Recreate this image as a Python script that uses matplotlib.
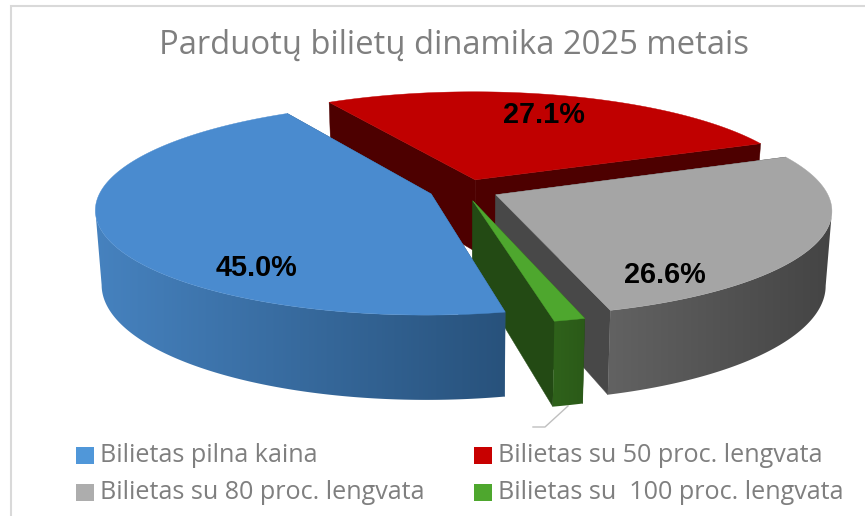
import numpy as np
import matplotlib
matplotlib.use("Agg")
import matplotlib.pyplot as plt
from matplotlib.patches import Polygon, Rectangle
from matplotlib.colors import to_rgb

title = "Parduotų bilietų dinamika 2025 metais"
categories = ["Bilietas pilna kaina", "Bilietas su 50 proc. lengvata",
              "Bilietas su 80 proc. lengvata", "Bilietas su  100 proc. lengvata"]
values = [45.0, 27.1, 26.6, 1.3]

# styling
top_cols = ["#4A8BCF", "#C00000", "#A5A5A5", "#4EA72E"]
wall_cols = ["#2A5680", "#4D0000", "#484848", "#234A14"]
side_grad = [("#4682BF", "#28527C"), ("#4D0000", "#4D0000"),
             ("#626262", "#444444"), ("#2F621B", "#2B5A18")]
legend_cols = ["#5097D9", "#C80000", "#ADADAD", "#4EA72E"]

# projection of the pie plane into figure pixels
CX, CY, R, K, H, P, Q = 464.0, 190.0, 330.0, 103.0, 72.5, 0.14, 0.017
EXPL, FIRST = 0.106, 168.1

fig = plt.figure(figsize=(8.65, 5.16), dpi=100, facecolor="white")
ax = fig.add_axes([0, 0, 1, 1])
ax.axis("off")


def project(x, y, down):
    s = 1.0 / (1.0 + P * y)
    return CX + R * x * s * (1 - Q * down), CY + (-K * y + H * down) * s


def draw_wedge(a0, a1, top, wall, grad, z):
    mid = np.radians((a0 + a1) / 2)
    ox, oy = EXPL * np.sin(mid), EXPL * np.cos(mid)
    th = np.radians(np.linspace(a0, a1, max(int(abs(a1 - a0)) * 2, 8) + 1))
    xs, ys = ox + np.sin(th), oy + np.cos(th)
    # inner walls
    for i in (0, -1):
        pts = [project(ox, oy, 0), project(xs[i], ys[i], 0),
               project(xs[i], ys[i], 1), project(ox, oy, 1)]
        ax.add_patch(Polygon(pts, closed=True, fc=wall, ec=wall, lw=0.3, zorder=z))
    # outer wall: from the silhouette edge round to the near end of the arc
    xt, yt = project(xs, ys, 0)
    xb, yb = project(xs, ys, 1)
    side = np.sign(np.sin(mid))
    near_last = np.cos(th[-1]) < np.cos(th[0])
    i_t, i_b = np.argmax(side * xt), np.argmax(side * xb)
    if near_last:
        sel_t, sel_b = np.arange(i_t, len(th)), np.arange(i_b, len(th))
    else:
        sel_t, sel_b = np.arange(0, i_t + 1), np.arange(0, i_b + 1)
    if len(sel_t) > 1 and len(sel_b) > 1:
        outline = np.r_[np.c_[xt[sel_t], yt[sel_t]], np.c_[xb[sel_b], yb[sel_b]][::-1]]
        clip = Polygon(outline, closed=True, fc="none", ec="none", transform=ax.transData)
        ax.add_patch(clip)
        c0, c1 = np.array(to_rgb(grad[0])), np.array(to_rgb(grad[1]))
        ramp = (np.linspace(0, 1, 256)[None, :, None] * (c1 - c0) + c0)
        im = ax.imshow(ramp, extent=[outline[:, 0].min(), outline[:, 0].max(),
                                     outline[:, 1].max(), outline[:, 1].min()],
                       aspect="auto", zorder=z + 0.1, interpolation="bilinear")
        im.set_clip_path(clip)
    # top face
    px, py = project(np.r_[ox, xs], np.r_[oy, ys], 0)
    ax.add_patch(Polygon(np.c_[px, py], closed=True, fc=top, ec=top, lw=0.3, zorder=z + 0.2))


totals = np.cumsum([0] + values)
total = totals[-1]
starts = FIRST + totals[:-1] / total * 360
ends = FIRST + totals[1:] / total * 360
for order, idx in enumerate([1, 2, 3, 0]):
    draw_wedge(starts[idx], ends[idx], top_cols[idx], wall_cols[idx], side_grad[idx], 2 + order)

ax.set_xlim(0, 865)
ax.set_ylim(516, 0)

# frame lines
ax.plot([11, 11, 865], [516, 5.5, 5.5], color="#D9D9D9", lw=1.5, zorder=1, solid_joinstyle="miter")

# leader line of the unlabelled slice
ax.plot([568, 545, 533], [406, 427, 427], color="#BFBFBF", lw=1, zorder=1)

ax.text(454, 45, title, ha="center", va="center", fontsize=23.6, color="#7F7F7F",
        family="Open Sans", zorder=10)

label_pos = [(257, 268), (544, 115), (665, 275)]
for (lx, ly), v in zip(label_pos, values[:3]):
    ax.text(lx, ly, f"{v:.1f}%", ha="center", va="center", fontsize=20.8, fontweight="bold",
            color="black", family="Liberation Sans", zorder=10)

legend_xy = [(76, 455.5), (474, 455.5), (76, 492.5), (474, 492.5)]
for (lx, ly), name, c in zip(legend_xy, categories, legend_cols):
    ax.add_patch(Rectangle((lx, ly - 8.5), 18, 17, fc=c, ec="none", zorder=10))
    ax.text(lx + 24.5, ly, name, ha="left", va="center", fontsize=18.1, color="#7F7F7F",
            family="Open Sans", zorder=10)

fig.savefig("out.png", dpi=100, facecolor="white")
